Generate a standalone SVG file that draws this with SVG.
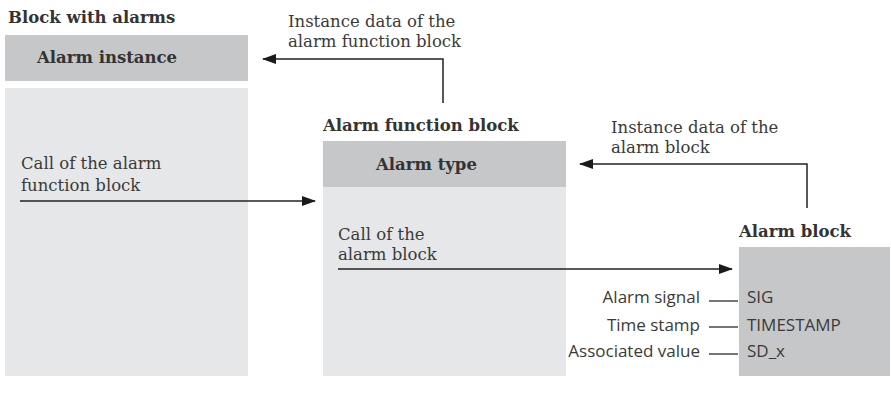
<svg xmlns="http://www.w3.org/2000/svg" width="891" height="396" viewBox="0 0 891 396">
<style>
.hdr{fill:#c6c7c9}
.body{fill:#e6e7e8}
.t{font-family:"DejaVu Serif","Liberation Serif",serif;font-size:16.5px;fill:#3a3a3a}
.b{font-family:"DejaVu Serif","Liberation Serif",serif;font-size:16.5px;font-weight:bold;fill:#333}
.s{font-family:"Open Sans","Noto Sans",sans-serif;font-size:17px;fill:#3a3a3a}
.ln{stroke:#222;stroke-width:1.5;fill:none}
.thin{stroke:#2a2a2a;stroke-width:1.3;fill:none}
</style>
<defs>
<marker id="ah" markerWidth="14" markerHeight="10" refX="13" refY="5" orient="auto" markerUnits="userSpaceOnUse">
<path d="M0,0 L14,5 L0,10 Z" fill="#1a1a1a"/>
</marker>
</defs>
<g id="block-with-alarms">
<text class="b" x="8" y="23">Block with alarms</text>
<rect class="hdr" x="5" y="35" width="243" height="46"/>
<text class="b" x="37" y="63">Alarm instance</text>
<rect class="body" x="5" y="88" width="243" height="288"/>
<text class="t" x="21" y="169">Call of the alarm</text>
<text class="t" x="21" y="191">function block</text>
</g>
<g id="alarm-function-block">
<text class="b" x="323" y="131">Alarm function block</text>
<rect class="hdr" x="323" y="141" width="243" height="46"/>
<text class="b" x="376" y="170">Alarm type</text>
<rect class="body" x="323" y="187" width="243" height="189"/>
<text class="t" x="338" y="240">Call of the</text>
<text class="t" x="338" y="260">alarm block</text>
</g>
<g id="alarm-block">
<text class="b" x="739" y="237">Alarm block</text>
<rect class="hdr" x="739" y="247" width="151" height="129"/>
<text class="s" x="747" y="303">SIG</text>
<text class="s" x="747" y="331">TIMESTAMP</text>
<text class="s" x="747" y="357">SD_x</text>
<text class="s" x="700" y="303" text-anchor="end">Alarm signal</text>
<text class="s" x="700" y="331" text-anchor="end">Time stamp</text>
<text class="s" x="700" y="357" text-anchor="end">Associated value</text>
</g>
<g id="labels">
<text class="t" x="288" y="27">Instance data of the</text>
<text class="t" x="288" y="47">alarm function block</text>
<text class="t" x="611" y="133">Instance data of the</text>
<text class="t" x="611" y="153">alarm block</text>
</g>
<g id="connectors">
<polyline class="ln" points="443,103 443,59 263,59" marker-end="url(#ah)"/>
<polyline class="ln" points="807,208 807,164 580,164" marker-end="url(#ah)"/>
<line class="ln" x1="20" y1="201" x2="315" y2="201" marker-end="url(#ah)"/>
<line class="ln" x1="338" y1="269" x2="732" y2="269" marker-end="url(#ah)"/>
<line class="thin" x1="709" y1="301" x2="738" y2="301"/>
<line class="thin" x1="709" y1="327" x2="738" y2="327"/>
<line class="thin" x1="709" y1="354" x2="738" y2="354"/>
</g>
</svg>
